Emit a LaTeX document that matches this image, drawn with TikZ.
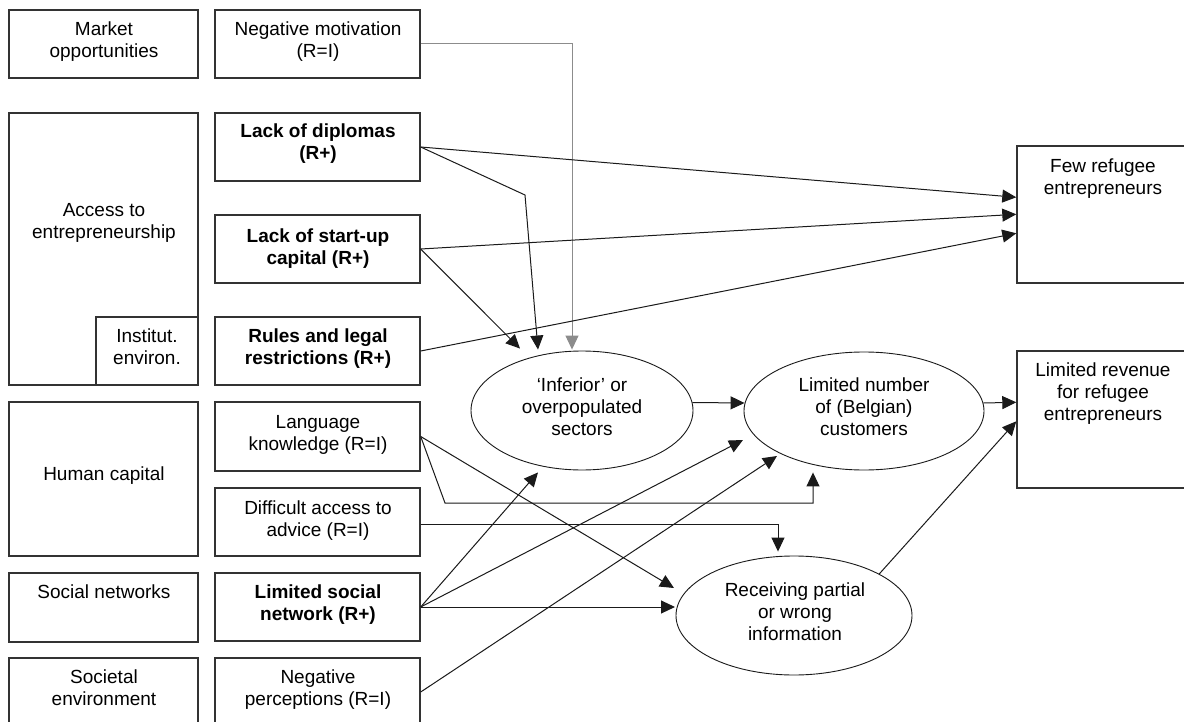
\documentclass[tikz,border=0pt]{standalone}
\usepackage{fontspec}
\setmainfont{Liberation Sans}
\usetikzlibrary{arrows.meta,calc,shapes.geometric}
\definecolor{boxc}{HTML}{333333}
\definecolor{linec}{HTML}{1A1A1A}
\definecolor{grayc}{HTML}{8C8C8C}
\begin{document}
\begin{tikzpicture}[x=1pt,y=-1pt,
  box/.style={draw=boxc, line width=1.4pt, inner sep=0pt},
  ell/.style={draw=linec, ellipse, line width=0.9pt, inner sep=0pt},
  txt/.style={font=\fontsize{19}{22}\selectfont, align=center, inner sep=0pt},
  btxt/.style={font=\fontsize{19}{22}\selectfont\bfseries, align=center, inner sep=0pt},
  conn/.style={draw=linec, line width=1pt, -{Triangle[length=14pt,width=13pt]}},
  gconn/.style={conn, draw=grayc}]
\useasboundingbox (0,0) rectangle (1184,722);
\fill[white] (0,0) rectangle (1184,722);
\clip (0,0) rectangle (1184,722);

% left column boxes
\node[box, minimum width=189pt, minimum height=68pt] (mo) at (103.5,44) {};
\node[box, minimum width=189pt, minimum height=272pt] (ae) at (103.5,249) {};
\node[box, minimum width=102pt, minimum height=68pt] (ie) at (147,351) {};
\node[box, minimum width=189pt, minimum height=154pt] (hc) at (103.5,479) {};
\node[box, minimum width=189pt, minimum height=69pt] (sn) at (103.5,607.5) {};
\node[box, minimum width=189pt, minimum height=68pt] (se) at (103.5,692) {};

% middle column boxes
\node[box, minimum width=205pt, minimum height=68pt] (nm) at (317.5,44) {};
\node[box, minimum width=205pt, minimum height=68pt] (ld) at (317.5,147) {};
\node[box, minimum width=205pt, minimum height=68pt] (sc) at (317.5,249) {};
\node[box, minimum width=205pt, minimum height=68pt] (rl) at (317.5,351) {};
\node[box, minimum width=205pt, minimum height=69pt] (lk) at (317.5,436.5) {};
\node[box, minimum width=205pt, minimum height=68pt] (da) at (317.5,522) {};
\node[box, minimum width=205pt, minimum height=68pt] (ls) at (317.5,607) {};
\node[box, minimum width=205pt, minimum height=68pt] (np) at (317.5,692) {};

% right boxes
\node[box, minimum width=173pt, minimum height=137pt] (fr) at (1103.5,214.5) {};
\node[box, minimum width=173pt, minimum height=137pt] (lr) at (1103.5,419.5) {};

% ellipses
\node[ell, minimum width=222pt, minimum height=119pt] (inf) at (582,410.5) {};
\node[ell, minimum width=240pt, minimum height=118pt] (lnc) at (864,411) {};
\node[ell, minimum width=236pt, minimum height=119pt] (rec) at (794,615.5) {};

% texts
\node[txt] (tmo) at (104,42) {\strut Market\\\strut opportunities};
\node[txt] (tae) at (104,223.5) {\strut Access to\\\strut entrepreneurship};
\node[txt] (tie) at (147,349.5) {\strut Institut.\\\strut environ.};
\node[txt] (thc) at (104,476) {\strut Human capital};
\node[txt] (tsn) at (104,594) {\strut Social networks};
\node[txt] (tse) at (104,690.5) {\strut Societal\\\strut environment};

\node[txt] (tnm) at (318,42) {\strut Negative motivation\\\strut (R=I)};
\node[btxt] (tld) at (318,144) {\strut Lack of diplomas\\\strut (R+)};
\node[btxt] (tsc) at (318,249) {\strut Lack of start-up\\\strut capital (R+)};
\node[btxt] (trl) at (318,349) {\strut Rules and legal\\\strut restrictions (R+)};
\node[txt] (tlk) at (318,435) {\strut Language\\\strut knowledge (R=I)};
\node[txt] (tda) at (318,521) {\strut Difficult access to\\\strut advice (R=I)};
\node[btxt] (tls) at (318,605.5) {\strut Limited social\\\strut network (R+)};
\node[txt] (tnp) at (318,690.5) {\strut Negative\\\strut perceptions (R=I)};

\node[txt] (tfr) at (1103,179.5) {\strut Few refugee\\\strut entrepreneurs};
\node[txt] (tlr) at (1103,394) {\strut Limited revenue\\\strut for refugee\\\strut entrepreneurs};

\node[txt] (tinf) at (582,409) {\strut ‘Inferior’ or\\\strut overpopulated\\\strut sectors};
\node[txt] (tlnc) at (864,409) {\strut Limited number\\\strut of (Belgian)\\\strut customers};
\node[txt] (trec) at (795,614) {\strut Receiving partial\\\strut or wrong\\\strut information};

% connector end points
\coordinate (fr1) at ($(fr.north west)+(0,52)$);
\coordinate (fr2) at ($(fr.north west)+(0,69)$);
\coordinate (fr3) at ($(fr.north west)+(0,88)$);
\coordinate (lr1) at ($(lr.north west)+(0,52)$);
\coordinate (lr2) at ($(lr.north west)+(0,71)$);
\coordinate (i1) at ($(inf.north)+(-62,-2)$);
\coordinate (i2) at ($(inf.north)+(-44,-1)$);
\coordinate (i3) at ($(inf.north)+(-10,-1)$);
\coordinate (i4) at ($(inf.south)+(-44,2)$);
\coordinate (n1) at (743,440);
\coordinate (n2) at (777,456);
\coordinate (n3) at ($(lnc.south)+(-51,2)$);
\coordinate (r1) at (674,588);
\coordinate (r2) at ($(rec.north)+(-16,-4)$);
\coordinate (r3) at (675,607);
\coordinate (b1) at (525,195);
\coordinate (b2) at (445,503);

% connectors
\draw[gconn] (nm.east) -| (i3);
\draw[conn] (ld.east) -- (fr1);
\draw[conn] (ld.east) -- (b1) -- (i2);
\draw[conn] (sc.east) -- (fr2);
\draw[conn] (sc.east) -- (i1);
\draw[conn] (rl.east) -- (fr3);
\draw[conn] ($(inf.east)+(-1,-8)$) -- ($(lnc.west)+(1,-8)$);
\draw[conn] ($(lnc.east)+(-1,-8)$) -- (lr1);
\draw[conn] (rec.26) -- (lr2);
\draw[conn] (lk.east) -- (b2) -| (n3);
\draw[conn] (lk.east) -- (r1);
\draw[conn] ($(da.east)+(0,2)$) -| (r2);
\draw[conn] (ls.east) -- (i4);
\draw[conn] (ls.east) -- (n1);
\draw[conn] (ls.east) -- (r3);
\draw[conn] (np.east) -- (n2);
\end{tikzpicture}
\end{document}
